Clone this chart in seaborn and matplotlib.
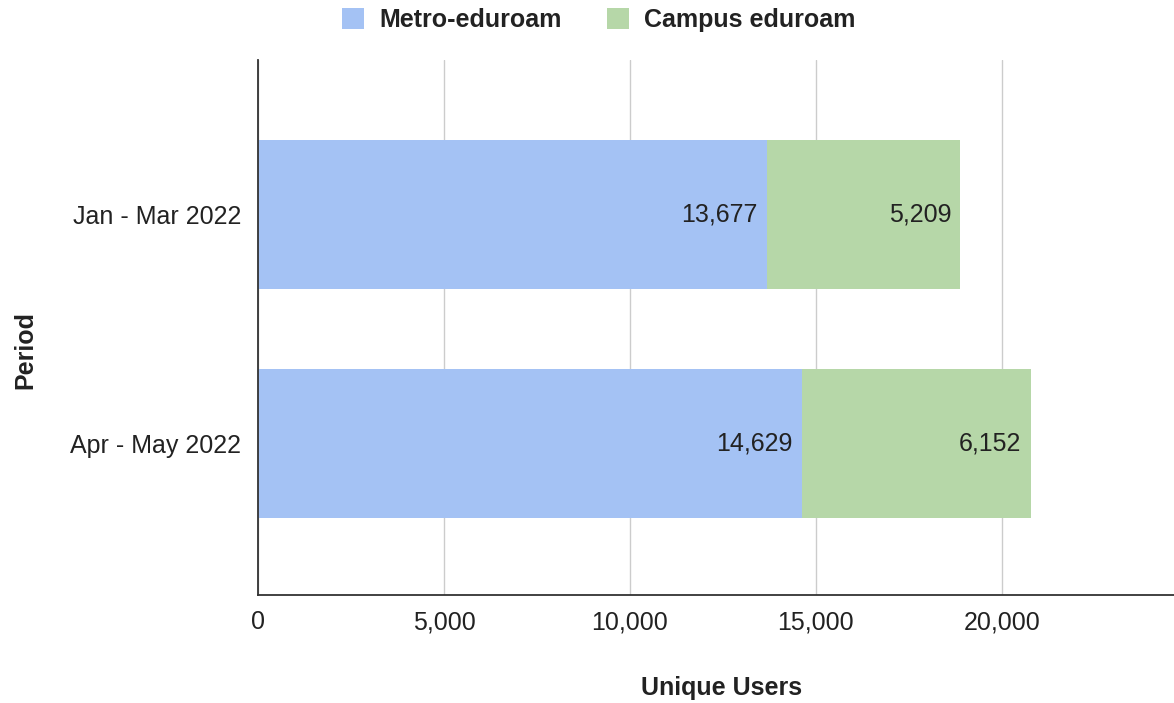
import matplotlib
matplotlib.use("Agg")
import matplotlib.pyplot as plt
import seaborn as sns
import pandas as pd
from matplotlib.patches import Patch
from matplotlib.ticker import FuncFormatter

periods = ["Jan - Mar 2022", "Apr - May 2022"]
metro = [13677, 14629]
campus = [5209, 6152]

sns.set_theme(style="white")
plt.rcParams['font.family'] = ['Liberation Sans', 'DejaVu Sans']

df = pd.DataFrame({"Period": periods, "Metro": metro, "Campus": campus})
df["Total"] = df["Metro"] + df["Campus"]

fig = plt.figure(figsize=(11.74, 7.03), dpi=100)
ax = fig.add_axes([258/1174, 1 - 595/703, 1 - 258/1174, (595 - 60)/703])

c_metro = "#a4c2f4"
c_campus = "#b6d7a8"
FS = 18
TXT = "#222222"

sns.barplot(data=df, y="Period", x="Total", color=c_campus, saturation=1,
            width=0.652, ax=ax, orient="h", linewidth=0)
sns.barplot(data=df, y="Period", x="Metro", color=c_metro, saturation=1,
            width=0.652, ax=ax, orient="h", linewidth=0)

for i, (m, c) in enumerate(zip(metro, campus)):
    ax.text(m - 250, i, f"{m:,}", ha="right", va="center", fontsize=FS, color=TXT)
    ax.text(m + c - 250, i, f"{c:,}", ha="right", va="center", fontsize=FS, color=TXT)

ax.set_xlim(0, 24630)
ax.set_ylim(1.665, -0.676)
ax.set_xticks([0, 5000, 10000, 15000, 20000])
ax.xaxis.set_major_formatter(FuncFormatter(lambda v, p: f"{int(v):,}"))
ax.grid(axis="x", color="#cccccc", linewidth=1)
ax.set_axisbelow(True)
for s in ["top", "right"]:
    ax.spines[s].set_visible(False)
for s in ["left", "bottom"]:
    ax.spines[s].set_color("#333333")
    ax.spines[s].set_linewidth(1.3)
ax.tick_params(axis="both", length=0, labelsize=FS, colors=TXT)
ax.tick_params(axis="y", pad=12)
ax.tick_params(axis="x", pad=11)

ax.set_xlabel("Unique Users", fontsize=FS, fontweight="bold", color=TXT, va="center")
ax.xaxis.set_label_coords((722 - 258) / 916, (595 - 688) / 535)
ax.set_ylabel("Period", fontsize=FS, fontweight="bold", color=TXT, va="center")
ax.yaxis.set_label_coords((25 - 258) / 916, (595 - 350) / 535)

handles = [Patch(facecolor=c_metro, edgecolor="none"), Patch(facecolor=c_campus, edgecolor="none")]
leg = fig.legend(handles, ["Metro-eduroam", "Campus eduroam"], loc="center",
                 bbox_to_anchor=(0.510, 1 - 20/703), ncol=2, frameon=False,
                 prop={"size": FS, "weight": "bold"}, handlelength=0.9, handleheight=0.9,
                 columnspacing=1.8, handletextpad=0.6)
for t in leg.get_texts():
    t.set_color(TXT)

fig.savefig("out.png", dpi=100)
